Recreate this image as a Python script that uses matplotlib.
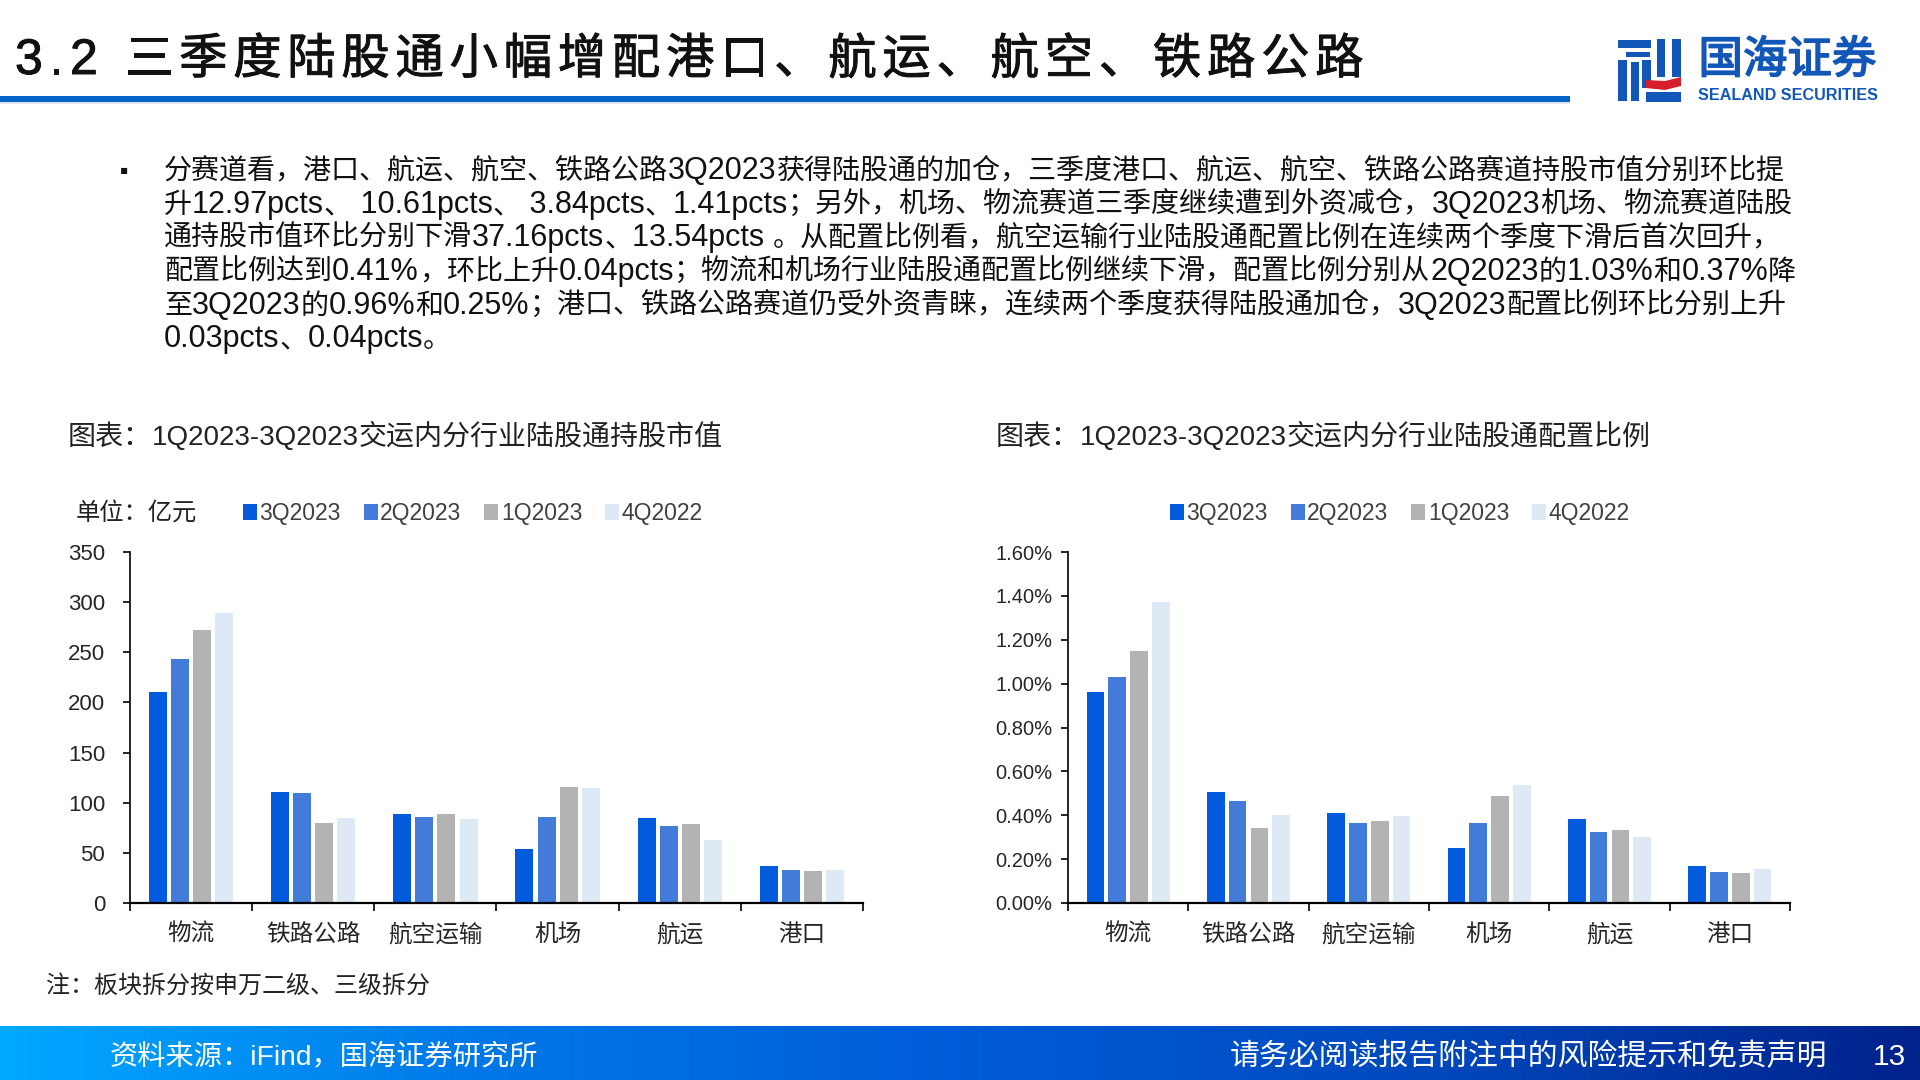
import re
import numpy as np
import matplotlib
matplotlib.use('Agg')
import matplotlib.pyplot as plt
import matplotlib.patheffects as pe
from matplotlib.patches import Rectangle, Polygon
from matplotlib.colors import LinearSegmentedColormap

plt.rcParams['font.family'] = ['Liberation Sans', 'Noto Sans CJK SC', 'DejaVu Sans']

# data
categories = ['物流', '铁路公路', '航空运输', '机场', '航运', '港口']
quarters = ['3Q2023', '2Q2023', '1Q2023', '4Q2022']
colors = ['#025BDD', '#427CD8', '#B3B3B3', '#DEE9F6']

value_3q23 = [210, 111, 89, 54, 85, 37]
value_2q23 = [243, 110, 86, 86, 77, 33]
value_1q23 = [272, 80, 89, 116, 79, 32]
value_4q22 = [289, 85, 84, 115, 63, 33]

ratio_3q23 = [0.96, 0.505, 0.41, 0.25, 0.385, 0.17]
ratio_2q23 = [1.03, 0.465, 0.365, 0.365, 0.325, 0.14]
ratio_1q23 = [1.15, 0.34, 0.375, 0.49, 0.335, 0.135]
ratio_4q22 = [1.37, 0.40, 0.395, 0.54, 0.30, 0.155]

left_ticks = [0, 50, 100, 150, 200, 250, 300, 350]
right_ticks = [0, 0.2, 0.4, 0.6, 0.8, 1.0, 1.2, 1.4, 1.6]

slide_title_head = '3.2'
slide_title = '三季度陆股通小幅增配港口、航运、航空、铁路公路'
body_lines = [
    '分赛道看，港口、航运、航空、铁路公路3Q2023获得陆股通的加仓，三季度港口、航运、航空、铁路公路赛道持股市值分别环比提',
    '升12.97pcts、 10.61pcts、 3.84pcts、1.41pcts；另外，机场、物流赛道三季度继续遭到外资减仓，3Q2023机场、物流赛道陆股',
    '通持股市值环比分别下滑37.16pcts、13.54pcts 。从配置比例看，航空运输行业陆股通配置比例在连续两个季度下滑后首次回升，',
    '配置比例达到0.41%，环比上升0.04pcts；物流和机场行业陆股通配置比例继续下滑，配置比例分别从2Q2023的1.03%和0.37%降',
    '至3Q2023的0.96%和0.25%；港口、铁路公路赛道仍受外资青睐，连续两个季度获得陆股通加仓，3Q2023配置比例环比分别上升',
    '0.03pcts、0.04pcts。',
]

W, H = 1920, 1080
fig = plt.figure(figsize=(19.2, 10.8), dpi=100, facecolor='white')

# overlay in pixel coordinates for the slide furniture
ov = fig.add_axes([0, 0, 1, 1], zorder=5)
ov.patch.set_alpha(0)
ov.axis('off')

grad = LinearSegmentedColormap.from_list('footer', ['#00A8FF', '#0078E8', '#005CD8', '#0048BC', '#00228A'])
ov.imshow(np.linspace(0, 1, 512).reshape(1, -1), cmap=grad, aspect='auto', extent=(0, W, 1080, 1026))
ov.set_xlim(0, W)
ov.set_ylim(H, 0)

renderer = fig.canvas.get_renderer()


def mixed_text(x, base_y, line, cjk_size, latin_size, color):
    # latin runs are a bit larger than the chinese on this slide, so draw run by run
    for run in re.findall(r'[\x00-\x7f]+|[^\x00-\x7f]+', line):
        size = latin_size if run[0].isascii() else cjk_size
        t = ov.text(x, base_y, run, fontsize=size, color=color, ha='left', va='baseline')
        x += t.get_window_extent(renderer).width


def chart(box, series, ticks, labels, tick_size, tick_pad, legend_x):
    x0, x1, y0, y1 = box
    ax = fig.add_axes([x0 / W, 1 - y1 / H, (x1 - x0) / W, (y1 - y0) / H])
    pitch = 0.181
    width = 0.147
    idx = np.arange(len(categories))
    bars = []
    for i, vals in enumerate(series):
        bars.append(ax.bar(idx + (i - 1.5) * pitch, vals, width, color=colors[i], label=quarters[i]))
    ax.set_xlim(-0.5, len(categories) - 0.5)
    ax.set_ylim(ticks[0], ticks[-1])
    ax.set_yticks(ticks)
    ax.set_yticklabels(labels, fontsize=tick_size, color='#262626')
    ax.set_xticks(idx)
    ax.set_xticklabels(categories, fontsize=17, color='#262626')
    ax.set_xticks(np.arange(len(categories) + 1) - 0.5, minor=True)
    ax.tick_params(axis='x', which='major', length=0, pad=15)
    ax.tick_params(axis='x', which='minor', length=6, width=1.2, direction='out')
    ax.tick_params(axis='y', length=5, width=1.2, direction='out', pad=tick_pad)
    ax.spines['top'].set_visible(False)
    ax.spines['right'].set_visible(False)
    ax.spines['left'].set_linewidth(1.2)
    ax.spines['bottom'].set_linewidth(1.6)
    ax.legend(handles=[b for b in bars], loc='center left', ncol=4, frameon=False,
              bbox_to_anchor=((legend_x - x0) / (x1 - x0), 1.109), borderaxespad=0, borderpad=0,
              fontsize=16.5, handlelength=0.6, handleheight=0.7, handletextpad=0.12,
              columnspacing=1.0, labelcolor='#404040')
    return ax


chart((130, 863, 552, 903), [value_3q23, value_2q23, value_1q23, value_4q22],
      left_ticks, [str(t) for t in left_ticks], 16, 13, 243)
chart((1068, 1790, 552, 903), [ratio_3q23, ratio_2q23, ratio_1q23, ratio_4q22],
      right_ticks, [f'{t:.2f}%' for t in right_ticks], 14.5, 6, 1170)

# header, letter-spaced by hand
heavy = [pe.withStroke(linewidth=0.7, foreground='#111111')]
pos = 15
for ch, step in zip(slide_title_head, [34, 21, 33]):
    ov.text(pos, 61, ch, fontsize=36, color='#111111', va='center', ha='left', path_effects=heavy)
    pos += step
pos = 125
for ch in slide_title:
    ov.text(pos, 61, ch, fontsize=34.8, color='#111111', va='center', ha='left', path_effects=heavy)
    pos += 54.1
ov.add_patch(Rectangle((0, 96), 1570, 6, color='#0563C8', lw=0))
ov.add_patch(Rectangle((0, 102), 1570, 2, color='#DCE8F6', lw=0))

# logo, coordinates taken from the crop
blue = '#1257B8'
logo_rects = [
    (1618, 40, 33, 8), (1626, 52, 24, 5), (1618, 60, 9, 41), (1631, 62, 8, 39),
    (1642, 60, 9, 28), (1657, 39, 8, 38), (1672, 39, 9, 38), (1646, 92, 35, 10),
]
for x, y, w, h in logo_rects:
    ov.add_patch(Rectangle((x, y), w, h, color=blue, lw=0))
ov.add_patch(Polygon([(1646, 80), (1665, 81), (1681, 77), (1681, 86), (1665, 90), (1646, 88)], color='#D5202C', lw=0))
ov.text(1787.5, 60, '国海证券', fontsize=32, color=blue, ha='center', va='center',
        family='Noto Sans CJK SC', path_effects=[pe.withStroke(linewidth=1.2, foreground=blue)])
ov.text(1787.5, 96, 'SEALAND SECURITIES', fontsize=11.6, color=blue, weight='bold', ha='center', va='center')

# body
ov.text(124, 173, '▪', fontsize=16, color='#111111', ha='center', va='center',
        family=['Noto Sans CJK SC', 'DejaVu Sans'])
body_base = [179, 213, 246, 280, 314, 347]
for yy, line in zip(body_base, body_lines):
    mixed_text(164, yy, line, 20.2, 22, '#111111')

# chart titles and notes
mixed_text(68, 445, '图表：1Q2023-3Q2023交运内分行业陆股通持股市值', 20.2, 20, '#222222')
mixed_text(996, 445, '图表：1Q2023-3Q2023交运内分行业陆股通配置比例', 20.2, 20, '#222222')
ov.text(76, 513, '单位：亿元', fontsize=17.5, color='#222222', ha='left', va='center')
ov.text(46, 986, '注：板块拆分按申万二级、三级拆分', fontsize=17.3, color='#222222', ha='left', va='center')

# footer
ov.text(110, 1057, '资料来源：iFind，国海证券研究所', fontsize=20.3, color='white', ha='left', va='center')
ov.text(1827, 1057, '请务必阅读报告附注中的风险提示和免责声明', fontsize=21.5, color='white', ha='right', va='center')
ov.text(1889, 1057, '13', fontsize=21.5, color='white', ha='center', va='center')

fig.savefig('out.png', dpi=100)
